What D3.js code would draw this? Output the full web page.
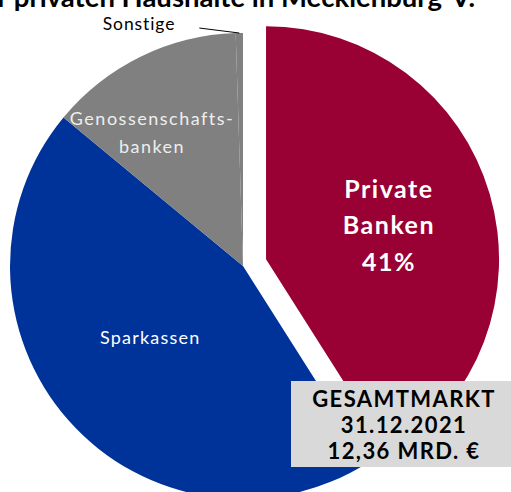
<!DOCTYPE html>
<html>
<head>
<meta charset="utf-8">
<script src="https://cdn.jsdelivr.net/npm/d3@7"></script>
<style>
  body { margin: 0; background: #fff; }
  svg { display: block; font-family: Lato, "Open Sans", sans-serif; }
</style>
</head>
<body>
<svg id="chart"></svg>
<script>
// Chart size
const width = 511;
const height = 492;

// Data
const categories = ["Private Banken", "Sparkassen", "Genossenschaftsbanken", "Sonstige"];
const shares = [41, 45, 13.5, 0.5];
const colors = ["#990033", "#003399", "#808080", "#808080"];
const title = "Einlagen der privaten Haushalte in Mecklenburg-V.";
const boxLines = ["GESAMTMARKT", "31.12.2021", "12,36 MRD. €"];

const svg = d3.select("#chart")
  .attr("width", width)
  .attr("height", height);

// Title (cut off at the top like in the original)
svg.append("text")
  .attr("x", 475)
  .attr("y", 7)
  .attr("text-anchor", "end")
  .attr("font-weight", "bold")
  .attr("font-size", 27.5)
  .text(title);

const cx = 243, cy = 266, radius = 233, explode = 24;

const pie = d3.pie().sort(null).value(d => d);
const arcs = pie(shares);
const arc = d3.arc().innerRadius(0).outerRadius(radius);

const g = svg.append("g").attr("transform", `translate(${cx},${cy})`);

function shift(d, dist) {
  const a = (d.startAngle + d.endAngle) / 2;
  return [Math.sin(a) * dist, -Math.cos(a) * dist];
}

g.selectAll(".slice")
  .data(arcs)
  .enter()
  .append("path")
  .attr("class", "slice")
  .attr("d", arc)
  .attr("fill", (d, i) => colors[i])
  .attr("transform", (d, i) => {
    const [dx, dy] = shift(d, i === 0 ? explode : 0);
    return `translate(${dx},${dy})`;
  });

// Private Banken label
const p = arcs[0];
const [px, py] = shift(p, explode + 128);
const pLines = ["Private", "Banken", d3.format(".0f")(p.data) + "%"];
g.append("text")
  .attr("text-anchor", "middle")
  .attr("fill", "#fff")
  .attr("font-weight", "bold")
  .attr("font-size", 25)
  .attr("letter-spacing", 1.5)
  .selectAll("tspan")
  .data(pLines)
  .enter()
  .append("tspan")
  .attr("x", px)
  .attr("y", (d, i) => py - 26 + i * 36.5)
  .text(d => d);

// Sparkassen label
const [sx, sy] = shift(arcs[1], 117);
g.append("text")
  .attr("x", sx - 5)
  .attr("y", sy + 1)
  .attr("text-anchor", "middle")
  .attr("fill", "#fff")
  .attr("font-size", 18)
  .attr("letter-spacing", 1.2)
  .text(categories[1]);

// Genossenschaftsbanken label (hyphenated in two lines)
const [gx, gy] = shift(arcs[2], 150);
g.append("text")
  .attr("text-anchor", "middle")
  .attr("fill", "#eeeeee")
  .attr("font-size", 18)
  .attr("letter-spacing", 1.5)
  .selectAll("tspan")
  .data(["Genossenschafts-", "banken"])
  .enter()
  .append("tspan")
  .attr("x", gx - 25)
  .attr("y", (d, i) => gy - 6 + i * 28)
  .text(d => d);

// Sonstige label with leader line
const so = arcs[3];
const edgeAngle = (so.startAngle + so.endAngle) / 2;
const ex = Math.sin(edgeAngle) * radius, ey = -Math.cos(edgeAngle) * radius;
g.append("line")
  .attr("x1", ex)
  .attr("y1", ey)
  .attr("x2", ex - 40)
  .attr("y2", ey - 5)
  .attr("stroke", "#000")
  .attr("stroke-width", 1);
g.append("text")
  .attr("x", ex - 64)
  .attr("y", ey - 3)
  .attr("text-anchor", "end")
  .attr("font-size", 17.5)
  .attr("letter-spacing", 0.9)
  .text(categories[3]);

// Total box
const box = svg.append("g").attr("transform", "translate(291,381)");
box.append("rect")
  .attr("width", 225)
  .attr("height", 86)
  .attr("fill", "#d9d9d9");
box.append("text")
  .attr("text-anchor", "middle")
  .attr("font-weight", "bold")
  .attr("font-size", 22)
  .attr("letter-spacing", 1.4)
  .selectAll("tspan")
  .data(boxLines)
  .enter()
  .append("tspan")
  .attr("x", 113)
  .attr("y", (d, i) => 26 + i * 26)
  .text(d => d);
</script>
</body>
</html>
